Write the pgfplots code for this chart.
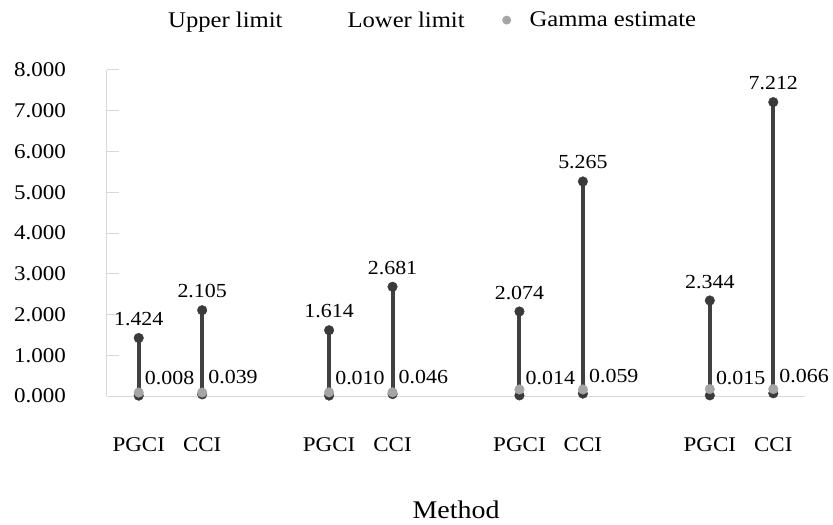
\documentclass[border=0pt]{standalone}
\usepackage{fontspec}
\setmainfont{Liberation Serif}[FakeStretch=1.1]
\usepackage{pgfplots}
\usepackage{pgfplotstable}
\pgfplotsset{compat=1.18}

\definecolor{stemgray}{HTML}{404040}
\definecolor{dotdark}{HTML}{3A3A3A}
\definecolor{gammagray}{HTML}{A5A5A5}
\definecolor{axisgray}{HTML}{D9D9D9}

% x: slot on the category axis (two methods per group, one empty slot between groups)
\pgfplotstableread{
x   lo     hi     gamma
0   0.008  1.424  0.085
1   0.039  2.105  0.085
3   0.010  1.614  0.090
4   0.046  2.681  0.090
6   0.014  2.074  0.160
7   0.059  5.265  0.160
9   0.015  2.344  0.170
10  0.066  7.212  0.170
}\ci

\newcommand{\valfmt}{\pgfmathprintnumber[fixed,fixed zerofill,precision=3]{\pgfplotspointmeta}}

\begin{document}
\begin{tikzpicture}
\useasboundingbox (-107bp,-129bp) rectangle (726bp,396bp);
\begin{axis}[
  scale only axis, width=698bp, height=326bp,
  xmin=-0.5, xmax=10.5, ymin=0, ymax=8,
  clip=false,
  axis lines*=left,
  axis line style={draw=axisgray, line width=1bp},
  /pgf/number format/assume math mode=true,
  xtick={0,1,3,4,6,7,9,10},
  xticklabels={PGCI,CCI,PGCI,CCI,PGCI,CCI,PGCI,CCI},
  x tick style={draw=none},
  xticklabel style={font=\fontsize{21}{25}\selectfont, inner sep=0pt, anchor=north, yshift=-41bp},
  ytick={0,1,...,8},
  y tick style={draw=axisgray, line width=1bp},
  tick align=inside, major tick length=12bp,
  yticklabel style={font=\fontsize{21}{25}\selectfont, inner sep=0pt, anchor=east, xshift=-41bp,
    /pgf/number format/fixed, /pgf/number format/fixed zerofill, /pgf/number format/precision=3},
  xlabel={Method},
  xlabel style={font=\fontsize{25.5}{30}\selectfont, at={(axis description cs:0.5,0)}, anchor=base, yshift=-122bp, inner sep=0pt},
  legend columns=3,
  legend style={at={(axis description cs:0.0473,1.153)}, anchor=west, draw=none, fill=none,
    inner sep=0pt, font=\fontsize{22.5}{27}\selectfont, nodes={inner sep=0pt},
    /tikz/every odd column/.append style={column sep=18bp},
    /tikz/every even column/.append style={column sep=37bp}},
]
% stems from lower to upper limit
\addplot[only marks, mark=none, forget plot,
  error bars/.cd, y dir=minus, y explicit, error mark=none,
  error bar style={line width=4bp, draw=stemgray}]
  table[x=x, y=hi, y error expr=\thisrow{hi}-\thisrow{lo}] {\ci};
% upper limit
\addplot[only marks, mark=*, mark size=4.8bp, mark options={fill=dotdark, draw=dotdark},
  legend image code/.code={\path[draw=none, fill=none] (-5bp,-5bp) rectangle (5bp,5bp);},
  point meta=explicit, nodes near coords=\valfmt,
  every node near coord/.append style={font=\fontsize{20}{24}\selectfont, text=black, inner sep=0pt, anchor=south, yshift=12bp}]
  table[x=x, y=hi, meta=hi] {\ci};
\addlegendentry{Upper limit}
% lower limit
\addplot[only marks, mark=*, mark size=4.8bp, mark options={fill=dotdark, draw=dotdark},
  legend image code/.code={\path[draw=none, fill=none] (-5bp,-5bp) rectangle (5bp,5bp);},
  point meta=explicit, nodes near coords=\valfmt,
  every node near coord/.append style={font=\fontsize{20}{24}\selectfont, text=black, inner sep=0pt, anchor=base west, xshift=6bp, yshift=11bp}]
  table[x=x, y=lo, meta=lo] {\ci};
\addlegendentry{Lower limit}
% gamma estimate
\addplot[only marks, mark=*, mark size=4.8bp, mark options={fill=gammagray, draw=gammagray},
  legend image code/.code={\path[draw=none, fill=none] (-5bp,-5bp) rectangle (5bp,5bp);
    \path[draw=none, fill=gammagray] (0bp,0bp) circle (4.5bp);}]
  table[x=x, y=gamma] {\ci};
\addlegendentry{Gamma estimate}
\end{axis}
\end{tikzpicture}
\end{document}
